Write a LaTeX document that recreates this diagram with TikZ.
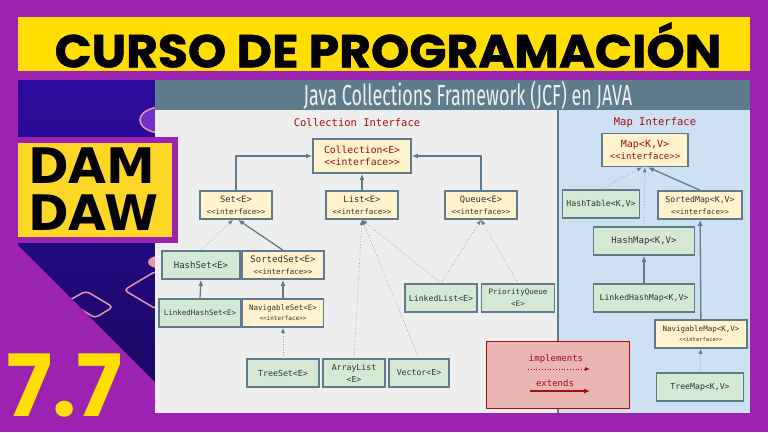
\documentclass[tikz,border=0pt]{standalone}
\usepackage{fontspec}
\usetikzlibrary{arrows.meta,positioning}
\setmainfont{DejaVu Sans}
\newfontfamily\monofont{DejaVu Sans Mono}
\newfontfamily\titlefont[FakeStretch=1.06,FakeBold=1.2]{Poppins}
\newfontfamily\numfont{Poppins}
\newfontfamily\headfont[FakeStretch=0.62]{Fira Sans}
\newfontfamily\damfont{DejaVu Sans}
\definecolor{mypurple}{RGB}{156,34,178}
\definecolor{myblueA}{RGB}{44,12,158}
\definecolor{myblueB}{RGB}{28,8,100}
\definecolor{myyellow}{RGB}{255,222,0}
\definecolor{mydamyellow}{RGB}{253,215,40}
\definecolor{myslate}{RGB}{94,124,139}
\definecolor{mygraybg}{RGB}{238,238,238}
\definecolor{mybluebg}{RGB}{206,225,242}
\definecolor{mycream}{RGB}{255,242,204}
\definecolor{mygreen}{RGB}{213,232,212}
\definecolor{mygray}{RGB}{51,51,51}
\definecolor{myred}{RGB}{160,16,16}
\definecolor{mylegend}{RGB}{234,182,180}
\definecolor{mydarkred}{RGB}{170,10,10}
\definecolor{mydot}{RGB}{150,160,168}
\definecolor{mydeco}{RGB}{230,150,170}
\definecolor{mydisk}{RGB}{110,50,200}
\newcommand\ifctext{<\kern0pt<interface>\kern0pt>}
\newcommand\fs[1]{\fontsize{#1}{12}\selectfont}

\begin{document}
\begin{tikzpicture}[
  x=1pt, y=-1pt,
  clsbox/.style={
    draw=myslate,
    line width=1.6pt,
    fill=mygreen,
    minimum width=#1,
    minimum height=28pt,
    inner sep=1pt,
    align=center,
    text=mygray,
    font=\monofont\fs{8.2}
    },
  ifcbox/.style={
    clsbox=#1,
    fill=mycream
    },
  ext/.style={
    draw=myslate,
    line width=1.3pt,
    -{Latex[length=6pt,width=5pt]}
    },
  impl/.style={
    draw=mydot,
    line width=0.7pt,
    dotted,
    -{Latex[length=5pt,width=4pt,color=myslate]}
  }
]

\useasboundingbox (0,0) rectangle (768,432);
\fill[mypurple] (0,0) rectangle (768,432);
\fill[myyellow] (18,17) rectangle (750,71);
\node[font=\titlefont\bfseries\fontsize{46}{46}\selectfont] (title) at (388,45) {CURSO DE PROGRAMACIÓN};

% dark area with decoration
\shade[top color=myblueA, bottom color=myblueB] (18,80) -- (156,80) -- (156,383) -- (18,245) -- cycle;
\begin{scope}
  \clip (18,80) -- (156,80) -- (156,383) -- (18,245) -- cycle;
  \draw[mydeco, fill=mydisk, line width=1.5pt] (162,120) ellipse [x radius=22pt, y radius=13pt];
  \draw[mydeco, line width=1.5pt, rounded corners=4pt] (124,290) -- (156,271) -- (188,290) -- (156,309) -- cycle;
  \draw[mydeco, line width=1.5pt, rounded corners=4pt] (68,301) -- (86,291) -- (113,307) -- (95,318) -- cycle;
  \fill[mydeco] (158,262) ellipse [x radius=10pt, y radius=6pt];
\end{scope}

% panel
\fill[mygraybg] (155,110) rectangle (558,413);
\fill[mybluebg] (558,110) rectangle (750,413);
\fill[myslate] (155,80) rectangle (750,110);
\draw[myslate, line width=1.5pt] (558,110) -- (558,413);
\node[font=\headfont\fontsize{29}{29}\selectfont, text=white!94!black] (header) at (468,95) {Java Collections Framework (JCF) en JAVA};
\node[font=\monofont\fs{10.5}, text=myred] (colllabel) at (357,123) {Collection Interface};
\node[font=\monofont\fs{10.5}, text=myred] (maplabel) at (655,123) {Map Interface};

% collection side
\node[ifcbox=98pt, minimum height=34pt, text=myred, font=\monofont\fs{9.7}] (coll) at (362,156) {Collection<E>\\\ifctext};
\node[ifcbox=72pt, font=\monofont\fs{8.8}] (set) at (236,205) {Set<E>\\\fs{7.5}\ifctext};
\node[ifcbox=72pt, font=\monofont\fs{8.8}] (list) at (362,205) {List<E>\\\fs{7.5}\ifctext};
\node[ifcbox=72pt, font=\monofont\fs{8.8}] (queue) at (481,205) {Queue<E>\\\fs{7.5}\ifctext};
\node[clsbox=78pt, font=\monofont\fs{9}] (hashset) at (201,265) {HashSet<E>};
\node[ifcbox=82pt, font=\monofont\fs{9}] (sortedset) at (283,265) {SortedSet<E>\\\fs{7.5}\ifctext};
\node[clsbox=82pt, font=\monofont\fs{7.5}] (linkedhashset) at (200,313) {LinkedHashSet<E>};
\node[ifcbox=81pt, font=\monofont\fontsize{7.5}{10}\selectfont] (navset) at (283,313) {NavigableSet<E>\\\fontsize{6}{10}\selectfont\ifctext};
\node[clsbox=72pt, font=\monofont\fs{8.3}] (treeset) at (283,373) {TreeSet<E>};
\node[clsbox=62pt] (arraylist) at (354,373) {ArrayList\\<E>};
\node[clsbox=60pt] (vector) at (419,373) {Vector<E>};
\node[clsbox=72pt] (linkedlist) at (441,298) {LinkedList<E>};
\node[clsbox=73pt, font=\monofont\fs{7.5}] (prioqueue) at (518,298) {PriorityQueue\\<E>};

% map side
\node[ifcbox=86pt, minimum height=33pt, text=myred, font=\monofont\fs{10}] (map) at (645,150) {Map<K,V>\\\fs{9}\ifctext};
\node[clsbox=77pt] (hashtable) at (601,204) {HashTable<K,V>};
\node[ifcbox=84pt] (sortedmap) at (700,205) {SortedMap<K,V>\\\fs{7.4}\ifctext};
\node[clsbox=101pt, font=\monofont\fs{9}] (hashmap) at (644,241) {HashMap<K,V>};
\node[clsbox=101pt] (linkedhashmap) at (644,298) {LinkedHashMap<K,V>};
\node[ifcbox=92pt, font=\monofont\fontsize{7.5}{10}\selectfont] (navmap) at (701,334) {NavigableMap<K,V>\\\fontsize{5.5}{10}\selectfont\ifctext};
\node[clsbox=87pt] (treemap) at (700,387) {TreeMap<K,V>};

% connectors
\draw[ext] (set.north) |- (coll.west);
\draw[ext] (queue.north) |- (coll.east);
\draw[ext] (list) -- (coll);
\draw[impl] (hashset.north) -- ([xshift=-3pt]set.south);
\draw[ext] (sortedset.north) -- ([xshift=2pt]set.south);
\draw[ext] (linkedhashset.north) -- (hashset.south);
\draw[ext] (navset) -- (sortedset);
\draw[impl] (treeset) -- (navset);
\foreach \Impl in {arraylist, vector, linkedlist}
  \draw[impl] (\Impl.north) -- (list.south);
\foreach \Impl in {linkedlist, prioqueue}
  \draw[impl] (\Impl.north) -- (queue.south);
\draw[impl] (hashtable.north) -- ([xshift=-3pt]map.south);
\draw[impl] (hashmap) -- (map);
\draw[ext] (sortedmap.north) -- ([xshift=3pt]map.south);
\draw[ext] (linkedhashmap) -- (hashmap);
\draw[ext] (navmap) -- (sortedmap);
\draw[impl] (treemap) -- (navmap);

% legend
\node[draw=mydarkred, line width=1.5pt, fill=mylegend, minimum width=143pt, minimum height=67pt] (legend) at (558,375) {};
\node[font=\monofont\fs{9}, text=myred] (impltext) at (556,359) {implements};
\coordinate (implA) at (528,369);
\coordinate (implB) at (590,369);
\draw[myred, dotted, line width=0.8pt, -{Latex[length=5pt,width=4pt]}] (implA) -- (implB);
\node[font=\monofont\fs{9}, text=myred] (exttext) at (555,383) {extends};
\coordinate (extA) at (530,391);
\coordinate (extB) at (590,391);
\draw[myred, line width=1.2pt, -{Latex[length=6pt,width=5pt]}] (extA) -- (extB);

% DAM DAW box and number
\fill[mypurple] (18,137) rectangle (178,243);
\fill[mydamyellow] (18,143) rectangle (172,237);
\node[font=\damfont\bfseries\fontsize{49}{47}\selectfont, align=left, anchor=north west, inner sep=0pt] (damdaw) at (28,148) {DAM\\DAW};
\node[font=\numfont\bfseries\fontsize{86}{86}\selectfont, text=myyellow, anchor=base west, inner sep=0pt] (num) at (6,416) {7.7};

\end{tikzpicture}
\end{document}
